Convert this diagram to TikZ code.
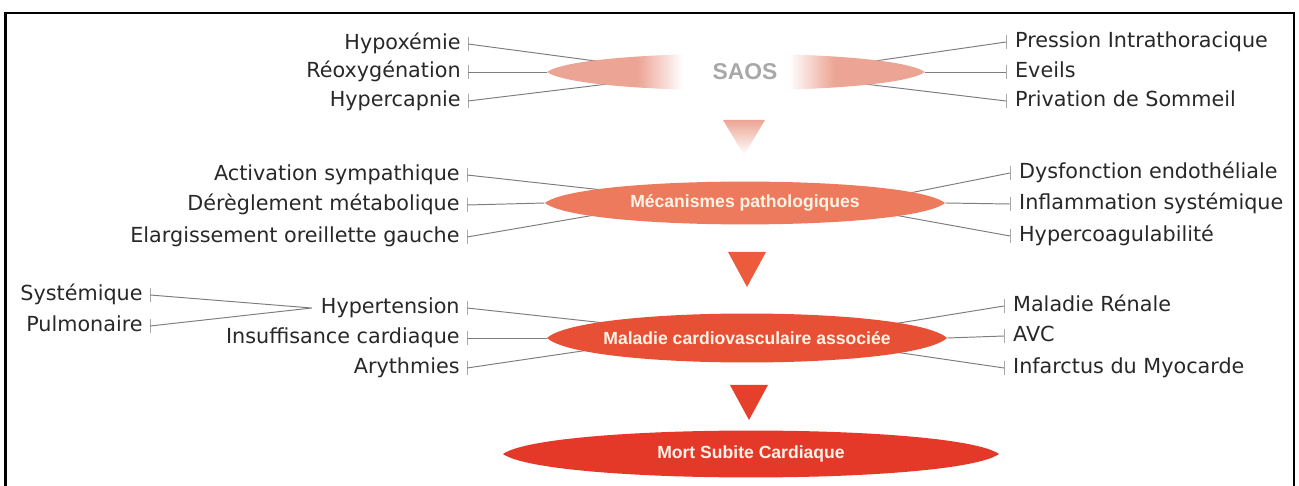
\documentclass[tikz,border=0pt]{standalone}
\usepackage{fontspec}
\setmainfont{DejaVu Sans}
\newfontfamily\hubfont{Liberation Sans}
\usetikzlibrary{positioning,shapes.geometric}

\definecolor{saospink}{RGB}{236,165,148}
\definecolor{mecaorange}{RGB}{237,122,92}
\definecolor{maladred}{RGB}{232,80,54}
\definecolor{mortred}{RGB}{228,56,40}
\definecolor{pointerorange}{RGB}{236,92,60}
\definecolor{pointerred}{RGB}{229,64,44}
\definecolor{linkgray}{RGB}{125,125,125}
\definecolor{labelink}{RGB}{40,40,40}
\definecolor{saosgray}{RGB}{168,168,168}
\definecolor{hubwhite}{RGB}{255,244,232}

\pgfdeclarehorizontalshading{saosfade}{100bp}{color(0bp)=(saospink); color(25bp)=(saospink); color(37bp)=(saospink); color(43bp)=(white); color(57bp)=(white); color(63bp)=(saospink); color(75bp)=(saospink); color(100bp)=(saospink)}

% lens shaped hub: centre x, centre y, half width, half height, fill
\newcommand\hublens[5]{%
  \path[#5] (#1-#3,#2) .. controls (#1-0.82*#3,#2-1.36*#4) and (#1+0.82*#3,#2-1.36*#4) .. (#1+#3,#2)
    .. controls (#1+0.82*#3,#2+1.36*#4) and (#1-0.82*#3,#2+1.36*#4) .. cycle;}

\tikzset{
  lbl/.style={font=\fontsize{11.8}{14}\selectfont, text=labelink, inner sep=0pt, text height=1.5ex, text depth=.3ex},
  tick/.style={draw=linkgray, line width=0.5pt, minimum width=0pt, minimum height=0.28cm, inner sep=0pt, outer sep=0pt},
  link/.style={draw=linkgray, line width=0.55pt},
  hub/.style={ellipse, inner sep=0pt},
  hubtext/.style={font=\hubfont\bfseries\fontsize{10}{12}\selectfont, text=hubwhite, inner sep=0pt},
}

\begin{document}
\begin{tikzpicture}[x=0.02cm, y=-0.02cm]
  \useasboundingbox (0,0) rectangle (1299,486);
  \draw[line width=1.4pt] (5.3,495) -- (5.3,13) -- (1294,13) -- (1294,495);

  \node[hub, minimum width=7.56cm, minimum height=0.43cm] (saos) at (736,72) {};
  \node[hub, minimum width=8cm, minimum height=0.5cm] (meca) at (745,203) {};
  \node[hub, minimum width=8cm, minimum height=0.58cm] (malad) at (747,338) {};

  \node[tick] (hypoxT) at (468,44) {};
  \node[tick] (reoxyT) at (468,72) {};
  \node[tick] (hypercT) at (468,101) {};
  \node[lbl, left=4pt of hypoxT] (hypox) {Hypoxémie};
  \node[lbl, left=4pt of reoxyT] (reoxy) {Réoxygénation};
  \node[lbl, left=4pt of hypercT] (hyperc) {Hypercapnie};
  \node[tick] (pressiT) at (1006,42) {};
  \node[tick] (eveilsT) at (1006,72) {};
  \node[tick] (privatT) at (1006,101) {};
  \node[lbl, right=5pt of pressiT] (pressi) {Pression Intrathoracique};
  \node[lbl, right=5pt of eveilsT] (eveils) {Eveils};
  \node[lbl, right=5pt of privatT] (privat) {Privation de Sommeil};

  \node[tick] (activT) at (467,175) {};
  \node[tick] (dereglT) at (467,205) {};
  \node[tick] (elargT) at (467,237) {};
  \node[lbl, left=4pt of activT] (activ) {Activation sympathique};
  \node[lbl, left=4pt of dereglT] (deregl) {Dérèglement métabolique};
  \node[lbl, left=4pt of elargT] (elarg) {Elargissement oreillette gauche};
  \node[tick] (dysfT) at (1010,173) {};
  \node[tick] (inflamT) at (1010,204) {};
  \node[tick] (hcoagT) at (1010,236) {};
  \node[lbl, right=5pt of dysfT] (dysf) {Dysfonction endothéliale};
  \node[lbl, right=5pt of inflamT] (inflam) {Inflammation systémique};
  \node[lbl, right=5pt of hcoagT] (hcoag) {Hypercoagulabilité};

  \node[tick] (hypertT) at (467,308) {};
  \node[tick] (insufT) at (467,338) {};
  \node[tick] (arythT) at (467,368) {};
  \node[lbl, left=4pt of hypertT] (hypert) {Hypertension};
  \node[lbl, left=4pt of insufT] (insuf) {Insuffisance cardiaque};
  \node[lbl, left=4pt of arythT] (aryth) {Arythmies};
  \coordinate[left=5pt of hypert] (hypertJ);
  \node[tick] (systT) at (150,295) {};
  \node[tick] (pulmoT) at (150,326) {};
  \node[lbl, left=4pt of systT] (syst) {Systémique};
  \node[lbl, left=4pt of pulmoT] (pulmo) {Pulmonaire};
  \node[tick] (renalT) at (1004,306) {};
  \node[tick] (avcT) at (1004,336) {};
  \node[tick] (infarcT) at (1004,368) {};
  \node[lbl, right=5pt of renalT] (renal) {Maladie Rénale};
  \node[lbl, right=5pt of avcT] (avc) {AVC};
  \node[lbl, right=5pt of infarcT] (infarc) {Infarctus du Myocarde};

  \draw[link] (hypoxT.center) -- (saos.176.8);
  \draw[link] (reoxyT.center) -- (saos.180);
  \draw[link] (hypercT.center) -- (saos.185.3);
  \draw[link] (pressiT.center) -- (saos.4.6);
  \draw[link] (eveilsT.center) -- (saos.0);
  \draw[link] (privatT.center) -- (saos.355.9);
  \draw[link] (activT.center) -- (meca.175.85);
  \draw[link] (dereglT.center) -- (meca.180);
  \draw[link] (elargT.center) -- (meca.184.2);
  \draw[link] (dysfT.center) -- (meca.3.9);
  \draw[link] (inflamT.center) -- (meca.0);
  \draw[link] (hcoagT.center) -- (meca.356.3);
  \draw[link] (hypertT.center) -- (malad.174.4);
  \draw[link] (insufT.center) -- (malad.180);
  \draw[link] (arythT.center) -- (malad.184.1);
  \draw[link] (renalT.center) -- (malad.5.8);
  \draw[link] (avcT.center) -- (malad.0);
  \draw[link] (infarcT.center) -- (malad.355.9);
  \draw[link] (systT.center) -- (hypertJ) -- (pulmoT.center);

  \hublens{736}{72}{189}{18}{shade, shading=saosfade}
  \hublens{745}{203}{200}{21}{fill=mecaorange}
  \hublens{747}{338}{200}{24}{fill=maladred}
  \hublens{751}{454}{248}{23}{fill=mortred}

  \shade[top color=saospink, middle color=saospink!30, bottom color=white] (723,120) -- (765,120) -- (744,155) -- cycle;
  \fill[pointerorange] (728,252) -- (766,252) -- (747,287) -- cycle;
  \fill[pointerred] (730,385) -- (768,385) -- (749,420) -- cycle;

  \node[hubtext, text=saosgray, font=\hubfont\bfseries\fontsize{13}{15}\selectfont] (saosL) at (745,72) {SAOS};
  \node[hubtext] (mecaL) at (meca) {Mécanismes pathologiques};
  \node[hubtext] (maladL) at (malad) {Maladie cardiovasculaire associée};
  \node[hubtext] (mort) at (751,454) {Mort Subite Cardiaque};
\end{tikzpicture}
\end{document}
